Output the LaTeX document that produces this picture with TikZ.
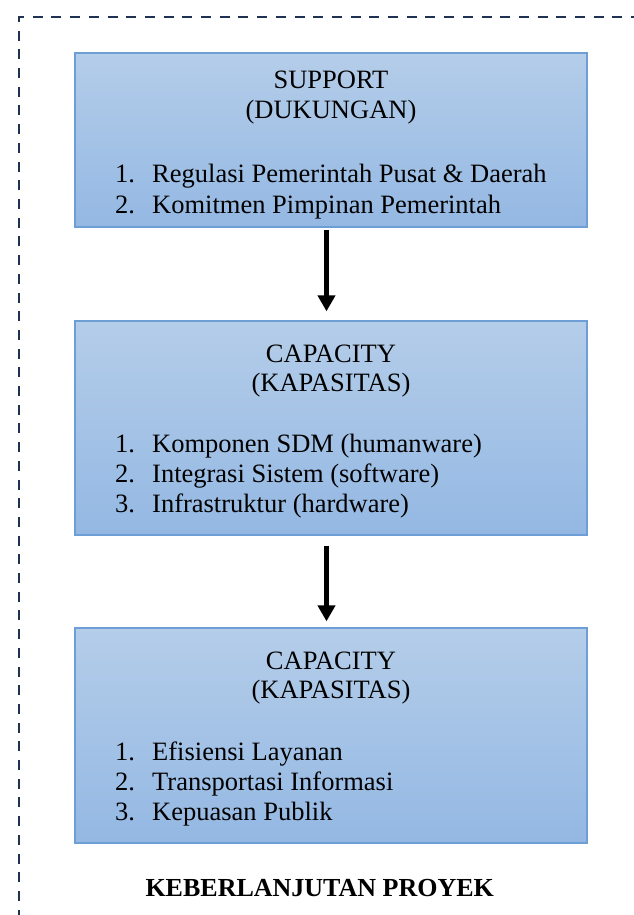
\documentclass[tikz,border=0pt]{standalone}
\usepackage{fontspec}
\setmainfont{Liberation Serif}
\usepackage{tikz}
\usetikzlibrary{arrows.meta}

\definecolor{navyputus}{HTML}{1F3251}
\definecolor{garisbiru}{HTML}{6E9ED6}
\definecolor{biruatas}{HTML}{B4CDE9}
\definecolor{birubawah}{HTML}{94B8E3}

\tikzset{
  kotak/.style={draw=garisbiru, line width=1.3pt, top color=biruatas, bottom color=birubawah,
    minimum width=512pt, inner sep=0pt},
  judul/.style={anchor=base, inner sep=0pt, font=\fontsize{26.5}{30}\selectfont},
  butir/.style={anchor=base west, inner sep=0pt, font=\fontsize{26.5}{30}\selectfont},
  panah/.style={line width=4.5pt, -{Triangle[width=17pt,length=16pt]}},
  bingkai/.style={draw=navyputus, line width=2.8pt, dash pattern=on 10pt off 8.7pt}
}

\begin{document}
\begin{tikzpicture}[x=1pt, y=-1pt]
                \useasboundingbox (0,0) rectangle (634,915);

                % Dashed frame (top and left edge)
                \draw[bingkai, dash phase=4.6pt] (19,915) -- (19,17) -- (634,17);

                % Support box
                \node[kotak, minimum height=174pt] (dukungan) at (331,140) {};
                \node[judul] (dukungan-a) at (331,88.5) {SUPPORT};
                \node[judul] (dukungan-b) at (331,118) {(DUKUNGAN)};
                \node[butir] (dukungan-1) at (115,182.5) {\makebox[37pt][l]{1.}Regulasi Pemerintah Pusat \& Daerah};
                \node[butir] (dukungan-2) at (115,213) {\makebox[37pt][l]{2.}Komitmen Pimpinan Pemerintah};

                % Capacity box
                \node[kotak, minimum height=214pt] (kapasitas) at (331,428) {};
                \node[judul] (kapasitas-a) at (331,362) {CAPACITY};
                \node[judul] (kapasitas-b) at (331,391) {(KAPASITAS)};
                \node[butir] (kapasitas-1) at (115,452) {\makebox[37pt][l]{1.}Komponen SDM (humanware)};
                \node[butir] (kapasitas-2) at (115,482) {\makebox[37pt][l]{2.}Integrasi Sistem (software)};
                \node[butir] (kapasitas-3) at (115,512) {\makebox[37pt][l]{3.}Infrastruktur (hardware)};

                % Output box
                \node[kotak, minimum height=215pt] (hasil) at (331,735.5) {};
                \node[judul] (hasil-a) at (331,669) {CAPACITY};
                \node[judul] (hasil-b) at (331,698) {(KAPASITAS)};
                \node[butir] (hasil-1) at (115,760) {\makebox[37pt][l]{1.}Efisiensi Layanan};
                \node[butir] (hasil-2) at (115,790) {\makebox[37pt][l]{2.}Transportasi Informasi};
                \node[butir] (hasil-3) at (115,820) {\makebox[37pt][l]{3.}Kepuasan Publik};

                % Arrows
                \draw[panah, shorten <=2pt, shorten >=9pt] ([xshift=-4.5pt]dukungan.south) -- ([xshift=-4.5pt]kapasitas.north);
                \draw[panah, shorten <=10pt, shorten >=6pt] ([xshift=-4.5pt]kapasitas.south) -- ([xshift=-4.5pt]hasil.north);

                % Caption
                \node[judul, font=\fontsize{26}{30}\selectfont\bfseries] (keberlanjutan) at (319.7,896.7) {KEBERLANJUTAN PROYEK};
\end{tikzpicture}
\end{document}
